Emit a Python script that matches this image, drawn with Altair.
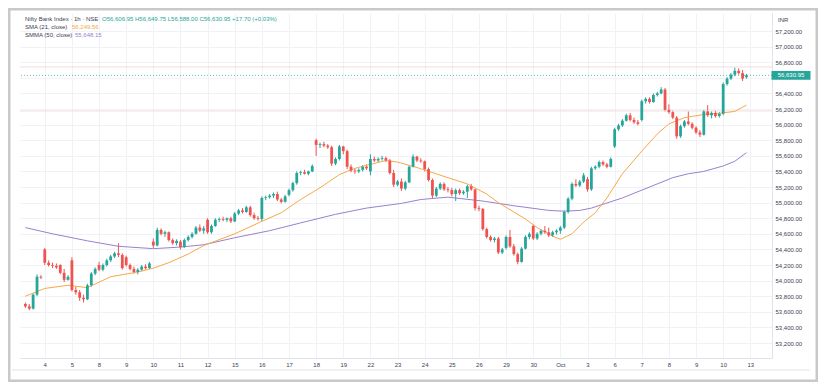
import altair as alt
import pandas as pd

# ---------------- data ----------------
DAY_LABELS = ["4", "5", "8", "9", "10", "11", "12", "15", "16", "17", "18", "19",
              "22", "23", "24", "25", "26", "29", "30", "Oct", "3", "6", "7", "8",
              "9", "10", "13"]
BARS_PER_DAY = 7
FIRST_INDEX = -5   # five hourly bars of the previous session are visible

OPENS = [
    53700, 53670, 53640, 53820, 54050,
    54400, 54230, 54200, 54190, 54200, 54100, 54010,
    54260, 53880, 53850, 53780, 53760, 53940, 54090,
    54200, 54140, 54200, 54260, 54310, 54350, 54330,
    54300, 54200, 54150, 54110, 54140, 54180, 54160,
    54500, 54450, 54650, 54600, 54620, 54520, 54480,
    54500, 54430, 54520, 54560, 54600, 54680, 54640,
    54780, 54620, 54700, 54780, 54790, 54780, 54800,
    54760, 54860, 54900, 54880, 54940, 54840, 54800,
    54790, 55060, 55070, 55090, 55110, 55040, 55010,
    55100, 55160, 55250, 55380, 55390, 55370, 55400,
    55800, 55740, 55750, 55730, 55710, 55500, 55560,
    55720, 55660, 55460, 55410, 55400, 55420, 55460,
    55400, 55560, 55540, 55560, 55570, 55540, 55380,
    55230, 55270, 55180, 55260, 55460, 55590, 55540,
    55530, 55430, 55290, 55090, 55180, 55240, 55170,
    55160, 55110, 55160, 55120, 55140, 55210, 55170,
    54930, 54920, 54660, 54560, 54520, 54540, 54360,
    54420, 54560, 54440, 54340, 54240, 54410, 54560,
    54700, 54540, 54600, 54640, 54620, 54580, 54620,
    54640, 54680, 54880, 55050, 55240, 55220, 55270,
    55300, 55170, 55440, 55460, 55520, 55490, 55460,
    55720, 55940, 55990, 56050, 56120, 56060, 56030,
    56060, 56300, 56330, 56290, 56380, 56400, 56450,
    56190, 56160, 56090, 55850, 55980, 56040, 56010,
    55960, 55900, 55870, 56170, 56120, 56150, 56110,
    56140, 56520, 56590, 56640, 56690, 56660, 56606.95,
]
HIGHS = [
    53720, 53700, 53840, 54080, 54070,
    54420, 54260, 54230, 54220, 54210, 54150, 54070,
    54300, 53920, 53880, 53820, 53960, 54110, 54170,
    54240, 54220, 54280, 54330, 54370, 54480, 54350,
    54320, 54220, 54180, 54160, 54200, 54210, 54240,
    54540, 54680, 54670, 54640, 54630, 54540, 54530,
    54520, 54540, 54580, 54620, 54700, 54720, 54700,
    54800, 54720, 54800, 54810, 54820, 54810, 54820,
    54880, 54920, 54930, 54960, 54960, 54870, 54830,
    55080, 55090, 55110, 55130, 55140, 55060, 55100,
    55180, 55270, 55400, 55410, 55420, 55410, 55490,
    55820, 55770, 55780, 55750, 55730, 55580, 55740,
    55730, 55680, 55490, 55440, 55440, 55480, 55490,
    55620, 55590, 55580, 55600, 55590, 55560, 55420,
    55290, 55310, 55280, 55480, 55620, 55600, 55570,
    55540, 55450, 55310, 55200, 55260, 55260, 55200,
    55190, 55180, 55180, 55160, 55230, 55240, 55180,
    54960, 54930, 54680, 54580, 54560, 54560, 54420,
    54580, 54650, 54470, 54360, 54430, 54580, 54620,
    54720, 54620, 54660, 54700, 54680, 54640, 54660,
    54700, 54900, 55070, 55260, 55300, 55290, 55380,
    55330, 55460, 55480, 55540, 55540, 55510, 55580,
    55960, 56010, 56070, 56140, 56150, 56090, 56060,
    56320, 56350, 56350, 56400, 56420, 56480, 56470,
    56260, 56180, 56110, 56000, 56060, 56170, 56030,
    55980, 55930, 56190, 56250, 56170, 56180, 56160,
    56540, 56610, 56660, 56730, 56720, 56700, 56649.75,
]
LOWS = [
    53650, 53620, 53630, 53800, 54020,
    54200, 54180, 54160, 54150, 54080, 53980, 54000,
    53860, 53820, 53740, 53720, 53750, 53920, 54070,
    54120, 54120, 54180, 54240, 54290, 54300, 54140,
    54180, 54130, 54090, 54080, 54120, 54140, 54150,
    54420, 54440, 54580, 54560, 54500, 54460, 54450,
    54400, 54420, 54500, 54540, 54590, 54620, 54600,
    54600, 54600, 54690, 54750, 54760, 54750, 54740,
    54750, 54840, 54860, 54870, 54820, 54780, 54770,
    54760, 55030, 55050, 55060, 55020, 54990, 55000,
    55080, 55140, 55230, 55350, 55360, 55350, 55390,
    55600, 55700, 55710, 55690, 55470, 55480, 55540,
    55620, 55430, 55390, 55370, 55380, 55400, 55420,
    55350, 55520, 55520, 55540, 55520, 55360, 55200,
    55210, 55150, 55160, 55250, 55450, 55520, 55510,
    55400, 55270, 55060, 55070, 55160, 55150, 55130,
    55080, 55020, 55100, 55100, 55060, 55150, 54900,
    54890, 54640, 54540, 54500, 54490, 54340, 54340,
    54400, 54420, 54320, 54210, 54230, 54400, 54530,
    54520, 54520, 54580, 54600, 54560, 54560, 54590,
    54600, 54660, 54860, 55030, 55200, 55200, 55250,
    55140, 55150, 55420, 55440, 55470, 55440, 55450,
    55700, 55920, 55970, 56040, 56040, 56010, 55990,
    56040, 56270, 56270, 56280, 56360, 56390, 56170,
    56140, 56070, 55820, 55830, 55960, 55990, 55940,
    55880, 55840, 55860, 56100, 56080, 56090, 56090,
    56120, 56500, 56570, 56620, 56640, 56560, 56588.00,
]
CLOSES = [
    53670, 53640, 53820, 54050, 54040,
    54230, 54200, 54190, 54170, 54100, 54010, 54050,
    53880, 53850, 53780, 53760, 53940, 54090, 54150,
    54140, 54200, 54260, 54310, 54350, 54330, 54160,
    54200, 54150, 54110, 54140, 54180, 54160, 54220,
    54450, 54650, 54600, 54620, 54520, 54480, 54510,
    54430, 54520, 54560, 54600, 54680, 54640, 54670,
    54620, 54700, 54780, 54790, 54780, 54800, 54760,
    54860, 54900, 54880, 54940, 54840, 54800, 54790,
    55060, 55070, 55090, 55110, 55040, 55010, 55080,
    55160, 55250, 55380, 55390, 55370, 55400, 55470,
    55740, 55750, 55730, 55710, 55500, 55560, 55720,
    55660, 55460, 55410, 55400, 55420, 55460, 55440,
    55560, 55540, 55560, 55570, 55540, 55380, 55230,
    55270, 55180, 55260, 55460, 55590, 55540, 55530,
    55430, 55290, 55090, 55180, 55240, 55170, 55160,
    55110, 55160, 55120, 55140, 55210, 55170, 54930,
    54920, 54660, 54560, 54520, 54540, 54360, 54400,
    54560, 54440, 54340, 54240, 54410, 54560, 54600,
    54540, 54600, 54640, 54620, 54580, 54620, 54640,
    54680, 54880, 55050, 55240, 55220, 55270, 55350,
    55170, 55440, 55460, 55520, 55490, 55460, 55560,
    55940, 55990, 56050, 56120, 56060, 56030, 56010,
    56300, 56330, 56290, 56380, 56400, 56450, 56190,
    56160, 56090, 55850, 55980, 56040, 56010, 55960,
    55900, 55870, 56170, 56120, 56150, 56110, 56140,
    56520, 56590, 56640, 56690, 56660, 56590, 56630.95,
]

# SMA (21, close) read at selected bars
SMA_BAR = [-5, 0, 6, 11, 17, 24, 28, 32, 37, 41, 49, 56, 61, 66, 71, 76, 80, 84, 88,
           91, 96, 104, 109, 114, 117, 121, 124, 127, 131, 133, 136, 139, 142, 145,
           149, 154, 158, 161, 165, 170, 175, 178, 181]
SMA_VAL = [53800, 53900, 53940, 53910, 54050, 54110, 54160, 54230, 54340, 54450,
           54600, 54760, 54870, 55040, 55190, 55360, 55440, 55490, 55540, 55520,
           55450, 55320, 55240, 55110, 55000, 54880, 54790, 54680, 54570, 54530,
           54600, 54750, 54870, 55060, 55370, 55660, 55880, 56010, 56090, 56130,
           56150, 56170, 56250]
# SMMA (50, close) read at selected bars
SMMA_BAR = [-5, 2, 11, 19, 28, 35, 41, 49, 58, 66, 75, 83, 92, 97, 104, 113, 121,
            130, 134, 138, 141, 149, 158, 162, 166, 170, 175, 178, 181]
SMMA_VAL = [54680, 54600, 54510, 54440, 54410, 54430, 54460, 54550, 54640, 54740,
            54850, 54930, 54990, 55040, 55070, 55020, 54960, 54900, 54890, 54900,
            54930, 55060, 55240, 55320, 55370, 55400, 55470, 55530, 55640]

Y_TICKS = list(range(53200, 57201, 200))
HIDDEN_TICK = 56600          # covered by the last-price tag in the reference
REF_LINES = [56740, 56175]

TITLE = "Nifty Bank Index · 1h · NSE"
OHLC_TEXT = "O56,606.95  H56,649.75  L56,588.00  C56,630.95  +17.70 (+0.03%)"
SMA_NAME, SMA_LAST = "SMA (21, close)", "56,249.56"
SMMA_NAME, SMMA_LAST = "SMMA (50, close)", "55,648.15"
CURRENCY = "INR"

# ---------------- styles ----------------
UP, DOWN = "#26a69a", "#ef5350"
SMA_COLOR, SMMA_COLOR = "#f7a84a", "#9a80d0"
TXT = "#3d4150"
FONT = "Liberation Sans"
W, H = 752, 345

n = len(CLOSES)
df = pd.DataFrame({
    "i": list(range(FIRST_INDEX, FIRST_INDEX + n)),
    "open": OPENS, "high": HIGHS, "low": LOWS, "close": CLOSES,
})
df["dir"] = ["up" if c >= o else "down" for o, c in zip(df["open"], df["close"])]
sma = pd.DataFrame({"i": SMA_BAR, "v": SMA_VAL})
smma = pd.DataFrame({"i": SMMA_BAR, "v": SMMA_VAL})
last = pd.DataFrame({"p": [CLOSES[-1]], "t": [f"{CLOSES[-1]:,.2f}"]})
refs = pd.DataFrame({"p": REF_LINES})

xscale = alt.Scale(domain=[-5.1, 186.3], nice=False, zero=False)
yscale = alt.Scale(domain=[53008, 57431], nice=False, zero=False)

day_vals = [BARS_PER_DAY * k for k in range(len(DAY_LABELS))]
label_expr = "[" + ",".join(f"'{d}'" for d in DAY_LABELS) + "][round(datum.value/7)]"
y_label_expr = f"datum.value == {HIDDEN_TICK} ? '' : format(datum.value, ',.2f')"

x_axis = alt.Axis(values=day_vals, labelExpr=label_expr, title=None, ticks=False,
                  grid=True, gridColor="#f0f2f6", domainColor="#e0e3eb",
                  labelFontSize=6, labelColor=TXT, labelFont=FONT, labelPadding=3,
                  labelFlush=False, labelOverlap=False)
y_axis = alt.Axis(values=Y_TICKS, labelExpr=y_label_expr, orient="right", title=None,
                  ticks=False, grid=True, gridColor="#f0f2f6", domainColor="#e0e3eb",
                  labelFontSize=6, labelColor=TXT, labelFont=FONT, labelPadding=3,
                  labelOverlap=False)

X = lambda f: alt.X(f, scale=xscale, axis=x_axis)
Y = lambda f: alt.Y(f, scale=yscale, axis=y_axis)

color = alt.Color("dir:N", scale=alt.Scale(domain=["up", "down"], range=[UP, DOWN]),
                  legend=None)

base = alt.Chart(df)
wicks = base.mark_rule(strokeWidth=1).encode(
    x=X("i:Q"), y=Y("low:Q"), y2="high:Q", color=color)
bodies = base.mark_bar(size=2.8).encode(
    x=X("i:Q"), y=Y("open:Q"), y2="close:Q", color=color)
refl = alt.Chart(refs).mark_rule(color="#eccfcf", strokeWidth=1, opacity=0.7).encode(
    y=Y("p:Q"))
sma_line = alt.Chart(sma).mark_line(color=SMA_COLOR, strokeWidth=1).encode(
    x=X("i:Q"), y=Y("v:Q"))
smma_line = alt.Chart(smma).mark_line(color=SMMA_COLOR, strokeWidth=1).encode(
    x=X("i:Q"), y=Y("v:Q"))
price_line = alt.Chart(last).mark_rule(color=UP, strokeDash=[1, 2], opacity=0.7).encode(
    y=Y("p:Q"))
price_box = alt.Chart(last).mark_point(
    shape="M-1,-0.22H1V0.22H-1Z", filled=True, size=1521, opacity=1, color=UP
).encode(x=alt.value(771), y=Y("p:Q"))
price_txt = alt.Chart(last).mark_text(
    color="white", fontSize=6, font=FONT, align="center", baseline="middle"
).encode(x=alt.value(771), y=Y("p:Q"), text="t:N")


def label(txt, x, y, col, align="left"):
    return alt.Chart(last).mark_text(
        fontSize=6, font=FONT, align=align, baseline="middle", color=col
    ).encode(x=alt.value(x), y=alt.value(y), text=alt.value(txt))


texts = [
    label(TITLE, 5, 6, TXT),
    label(OHLC_TEXT, 82, 6, UP),
    label(SMA_NAME, 5, 14, TXT),
    label(SMA_LAST, 52, 14, SMA_COLOR),
    label(SMMA_NAME, 5, 22, TXT),
    label(SMMA_LAST, 55, 22, SMMA_COLOR),
    label(CURRENCY, 758, 7, TXT),
]

frame = alt.Chart(last).mark_rect(fillOpacity=0, stroke="#c9c9c9", strokeWidth=3).encode(
    x=alt.value(-11), x2=alt.value(797), y=alt.value(-4), y2=alt.value(368))
time_border = alt.Chart(last).mark_rule(color="#e0e3eb").encode(
    x=alt.value(-8), x2=alt.value(790), y=alt.value(357))

chart = alt.layer(
    wicks, refl, smma_line, sma_line, bodies, price_line, price_box, price_txt,
    *texts, time_border, frame
).properties(
    width=W, height=H,
    autosize=alt.AutoSizeParams(type="none"),
    padding={"left": 12, "top": 5, "right": 46, "bottom": 24},
    background="white",
).configure_view(stroke=None).configure_axis(labelOverlap=False)

chart.save("out.html", embed_options={"renderer": "svg", "actions": False})
